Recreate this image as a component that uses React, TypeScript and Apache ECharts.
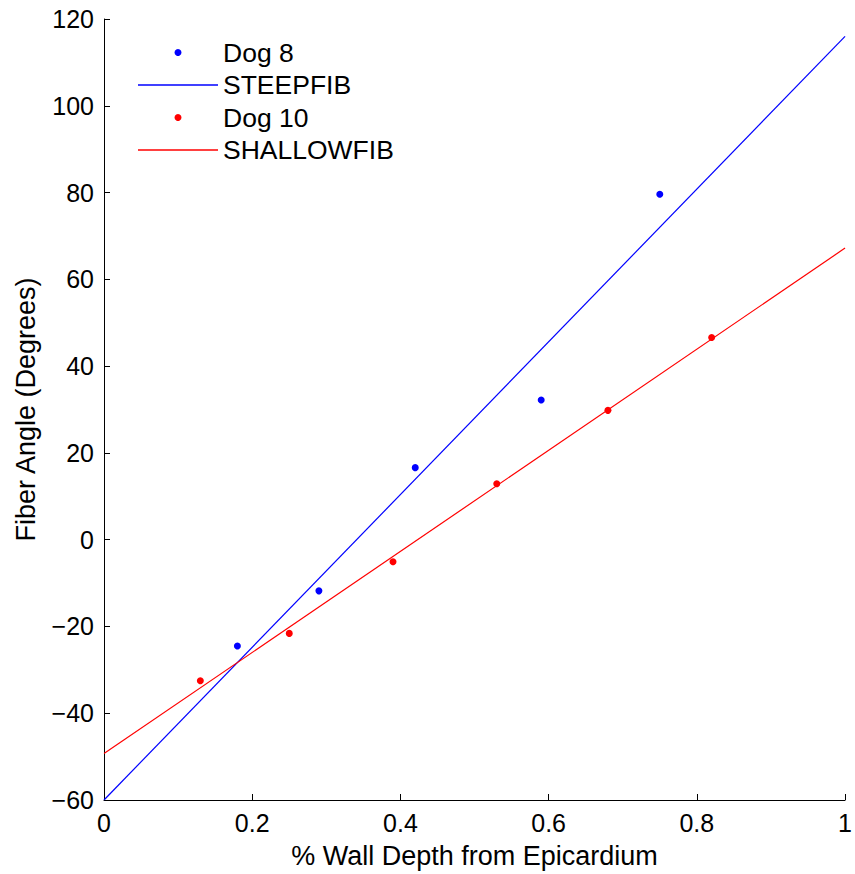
import React, { useEffect, useRef } from "react";
import * as echarts from "echarts";

const dog8X = [0.18, 0.29, 0.42, 0.59, 0.75];
const dog8Y = [-24.5, -11.8, 16.6, 32.2, 79.6];
const dog10X = [0.13, 0.25, 0.39, 0.53, 0.68, 0.82];
const dog10Y = [-32.5, -21.6, -5.1, 12.9, 29.8, 46.6];
const fitX = [0, 1];
const steepY = [-60, 116];
const shallowY = [-49.3, 67.2];

const FONT = "'Liberation Sans', Arial, Helvetica, sans-serif";
const LINE_ICON = "path://M0,0L80,0L80,1.3L0,1.3Z";

export default function App() {
  const ref = useRef<HTMLDivElement>(null);
  useEffect(() => {
    if (!ref.current) return;
    const chart = echarts.init(ref.current, undefined, { renderer: "svg" });
    const pair = (xs: number[], ys: number[]) => xs.map((x, i) => [x, ys[i]]);
    chart.setOption({
      animation: false,
      backgroundColor: "#ffffff",
      textStyle: { fontFamily: FONT },
      grid: { left: 104, right: 7, top: 19, bottom: 73, containLabel: false },
      legend: {
        left: 133,
        top: 34,
        orient: "vertical",
        itemWidth: 80,
        itemHeight: 7,
        itemGap: 5.5,
        textStyle: { fontSize: 26.5, color: "#000", fontFamily: FONT, padding: [0, 0, 0, 0] },
        data: [
          { name: "Dog 8", icon: "circle" },
          { name: "STEEPFIB", icon: LINE_ICON, itemStyle: { color: "#0000ff" } },
          { name: "Dog 10", icon: "circle" },
          { name: "SHALLOWFIB", icon: LINE_ICON, itemStyle: { color: "#ff0000" } },
        ],
      },
      xAxis: {
        type: "value",
        min: 0,
        max: 1,
        interval: 0.2,
        name: "% Wall Depth from Epicardium",
        nameLocation: "middle",
        nameGap: 42,
        nameTextStyle: { fontSize: 27, color: "#000", fontFamily: FONT },
        axisLine: { show: true, onZero: false, lineStyle: { color: "#000", width: 1 } },
        axisTick: { show: true, inside: true, length: 6, lineStyle: { color: "#000" } },
        axisLabel: { fontSize: 25, color: "#000", margin: 10, fontFamily: FONT },
        splitLine: { show: false },
      },
      yAxis: {
        type: "value",
        min: -60,
        max: 120,
        interval: 20,
        name: "Fiber Angle (Degrees)",
        nameLocation: "middle",
        nameGap: 65,
        nameTextStyle: { fontSize: 27, color: "#000", fontFamily: FONT },
        axisLine: { show: true, onZero: false, lineStyle: { color: "#000", width: 1 } },
        axisTick: { show: true, inside: true, length: 6, lineStyle: { color: "#000" } },
        axisLabel: {
          fontSize: 25,
          color: "#000",
          margin: 10,
          fontFamily: FONT,
          formatter: (v: number) => String(v).replace("-", "\u2212"),
        },
        splitLine: { show: false },
      },
      series: [
        {
          name: "Dog 8",
          type: "scatter",
          data: pair(dog8X, dog8Y),
          symbol: "circle",
          symbolSize: 7,
          itemStyle: { color: "#0000ff", opacity: 1 },
          z: 3,
        },
        {
          name: "STEEPFIB",
          type: "line",
          data: pair(fitX, steepY),
          showSymbol: false,
          symbol: "none",
          lineStyle: { color: "#0000ff", width: 1.2 },
          itemStyle: { color: "#0000ff" },
        },
        {
          name: "Dog 10",
          type: "scatter",
          data: pair(dog10X, dog10Y),
          symbol: "circle",
          symbolSize: 7,
          itemStyle: { color: "#ff0000", opacity: 1 },
          z: 3,
        },
        {
          name: "SHALLOWFIB",
          type: "line",
          data: pair(fitX, shallowY),
          showSymbol: false,
          symbol: "none",
          lineStyle: { color: "#ff0000", width: 1.2 },
          itemStyle: { color: "#ff0000" },
        },
      ],
    });
    return () => chart.dispose();
  }, []);
  return <div ref={ref} style={{ width: 855, height: 874, position: "absolute", left: 0, top: 0 }} />;
}
